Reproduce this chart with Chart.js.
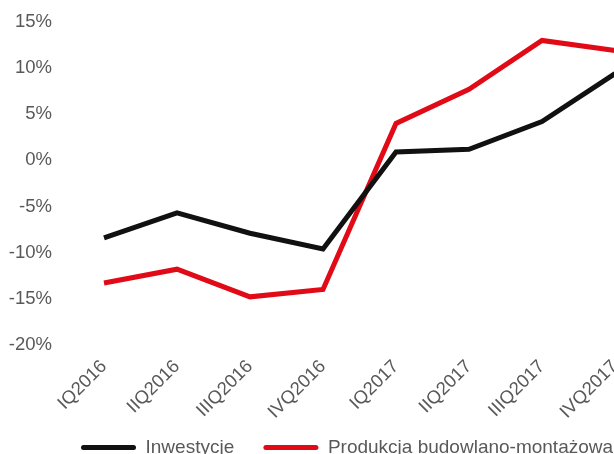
<!DOCTYPE html>
<html>
<head>
<meta charset="utf-8">
<script src="https://cdn.jsdelivr.net/npm/chart.js@4/dist/chart.umd.min.js"></script>
<style>
  html, body { margin: 0; padding: 0; background: #ffffff; overflow: hidden; }
  #wrap { width: 697px; height: 483px; position: relative; }
</style>
</head>
<body>
<div id="wrap"><canvas id="chart"></canvas></div>
<script>
// Quarterly year-on-year change, %
const quarters = ['IQ2016', 'IIQ2016', 'IIIQ2016', 'IVQ2016', 'IQ2017', 'IIQ2017', 'IIIQ2017', 'IVQ2017'];
const inwestycje = [-8.4, -5.7, -7.9, -9.6, 0.9, 1.2, 4.2, 9.4];
const produkcja = [-13.3, -11.8, -14.8, -14.0, 4.0, 7.7, 13.0, 11.9];
const seriesNames = ['Inwestycje', 'Produkcja budowlano-montażowa'];

const FAMILY = '"Liberation Sans", Arial, sans-serif';
const TICK_FONT = { family: FAMILY, size: 18.5 };
const LEGEND_FONT = { family: FAMILY, size: 19 };
const TEXT = '#595959';
const LEGEND_PAD = 29.2;

// Places the legend row just under the rotated quarter labels.
const legendPlacement = {
  id: 'legendPlacement',
  afterLayout(chart) {
    const lg = chart.legend;
    if (!lg) return;
    const top = 447.5 - LEGEND_PAD - LEGEND_FONT.size / 2;
    const left = 81 - LEGEND_PAD;
    lg.right += left - lg.left;
    lg.left = left;
    lg.bottom += top - lg.top;
    lg.top = top;
  }
};

new Chart(document.getElementById('chart'), {
  type: 'line',
  data: {
    labels: quarters,
    datasets: [
      { label: seriesNames[0], data: inwestycje, borderColor: '#111111', backgroundColor: '#111111',
        borderWidth: 5, pointRadius: 0, tension: 0 },
      { label: seriesNames[1], data: produkcja, borderColor: '#e10a17', backgroundColor: '#e10a17',
        borderWidth: 5, pointRadius: 0, tension: 0 }
    ]
  },
  plugins: [legendPlacement],
  options: {
    responsive: true,
    maintainAspectRatio: false,
    animation: false,
    layout: { padding: { top: 22, left: 9, right: 45.5, bottom: 0 } },
    plugins: {
      tooltip: { enabled: false },
      legend: {
        position: 'bottom',
        align: 'start',
        maxHeight: 60,
        labels: {
          font: LEGEND_FONT,
          color: TEXT,
          boxWidth: 55,
          boxHeight: 5,
          padding: LEGEND_PAD,
          useBorderRadius: true,
          borderRadius: 2.5,
          generateLabels: (chart) =>
            Chart.defaults.plugins.legend.labels.generateLabels(chart).map(item => ({
              ...item, lineWidth: 0, strokeStyle: 'rgba(0,0,0,0)'
            }))
        }
      }
    },
    scales: {
      x: {
        offset: true,
        grid: { display: false, drawTicks: false },
        border: { display: false },
        ticks: { font: TICK_FONT, color: TEXT, minRotation: 45, maxRotation: 45, autoSkip: false, padding: 11 },
        afterFit: (scale) => {
          scale.height = 80;
          scale.paddingLeft = 0;
          scale.paddingRight = 0;
        }
      },
      y: {
        min: -20,
        max: 15,
        grid: { display: false, drawTicks: false },
        border: { display: false },
        ticks: { font: TICK_FONT, color: TEXT, stepSize: 5, padding: 15.5, callback: (v) => v + '%' },
        afterFit: (scale) => {
          scale.width = 58.5;
          scale.paddingTop = 0;
          scale.paddingBottom = 0;
        }
      }
    }
  }
});
</script>
</body>
</html>
